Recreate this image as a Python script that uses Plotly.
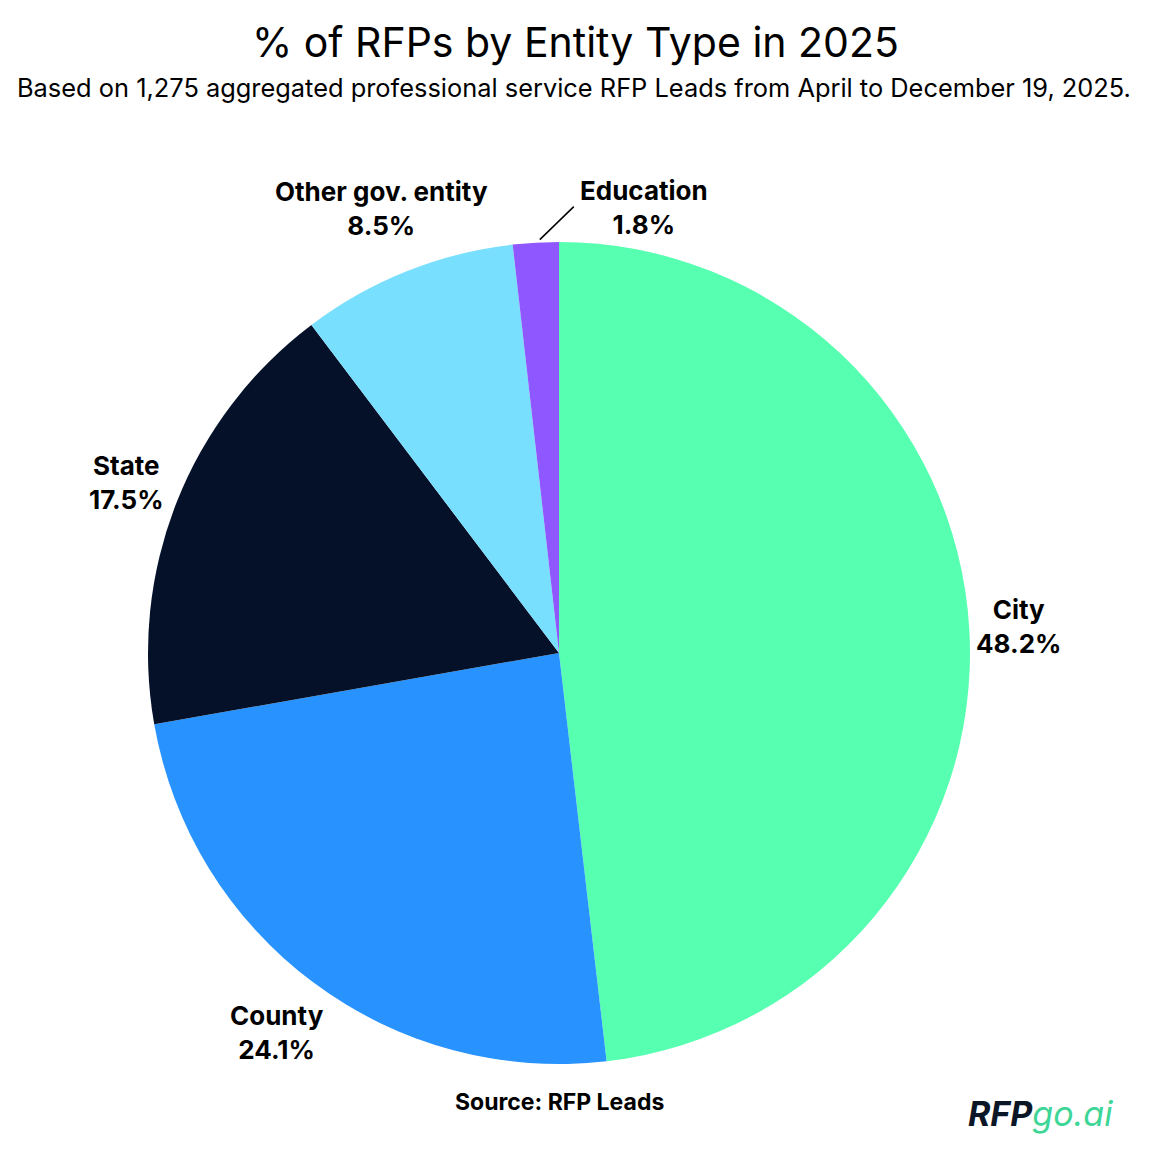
import math
import plotly.graph_objects as go

categories = ["City", "County", "State", "Other gov. entity", "Education"]
values = [48.2, 24.1, 17.5, 8.5, 1.8]
colors = ["#57FFB0", "#2893FF", "#041128", "#79DFFF", "#8E57FF"]
label_dist = {"City": 1.12, "County": 1.15, "State": 1.13, "Other gov. entity": 1.165}

W, H = 1152, 1156
OFF = 8  # page margin offset
CX, CY, R = 559 - OFF, 653 - OFF, 411

def px2paper(x, y):
    return x / W, 1 - y / H

fig = go.Figure()
fig.add_trace(go.Pie(
    labels=categories, values=values, sort=False, direction="clockwise",
    rotation=0, marker=dict(colors=colors, line=dict(width=0)),
    textinfo="none", hoverinfo="label+percent", showlegend=False,
    domain=dict(x=[(CX - R) / W, (CX + R) / W], y=[1 - (CY + R) / H, 1 - (CY - R) / H]),
))

total = sum(values)
cum = 0.0
annotations = []
shapes = []
for cat, v in zip(categories, values):
    mid = (cum + v / 2) / total * 2 * math.pi
    cum += v
    s, c = math.sin(mid), math.cos(mid)
    txt = f"{cat}<br>{v:.1f}%"
    if cat == "Education":
        ex, ey = CX + R * s, CY - R * c
        lx, ly = ex + 108, ey - 35
        x0, y0 = px2paper(ex + 4, ey - 3)
        x1, y1 = px2paper(ex + 38, ey - 36)
        shapes.append(dict(type="line", xref="paper", yref="paper", x0=x0, y0=y0, x1=x1, y1=y1,
                           line=dict(color="#000000", width=1.5)))
    else:
        f = label_dist[cat]
        lx, ly = CX + R * f * s, CY - R * f * c
    ax_, ay_ = px2paper(lx, ly)
    annotations.append(dict(x=ax_, y=ay_, xref="paper", yref="paper", text=txt, showarrow=False,
                            xanchor="center", yanchor="middle",
                            font=dict(family="Inter", size=26, color="#000000", weight=700)))

annotations.append(dict(x=(575 - OFF) / W, y=1 - (42 - OFF) / H, xref="paper", yref="paper", showarrow=False,
                        text="% of RFPs by Entity Type in 2025", xanchor="center", yanchor="middle",
                        font=dict(family="Inter", size=41, color="#000000")))
annotations.append(dict(x=(574 - OFF) / W, y=1 - (88 - OFF) / H, xref="paper", yref="paper", showarrow=False,
                        text="Based on 1,275 aggregated professional service RFP Leads from April to December 19, 2025.",
                        xanchor="center", yanchor="middle",
                        font=dict(family="Inter", size=25.4, color="#000000")))
annotations.append(dict(x=(559 - OFF) / W, y=1 - (1102 - OFF) / H, xref="paper", yref="paper", showarrow=False,
                        text="Source: RFP Leads", xanchor="center", yanchor="middle",
                        font=dict(family="Inter", size=23, color="#000000", weight=700)))
annotations.append(dict(x=(1040 - OFF) / W, y=1 - (1113 - OFF) / H, xref="paper", yref="paper", showarrow=False,
                        text="<b><i><span style='color:#0B1626'>RFP</span></i></b><i><span style='color:#3ED696'>go.ai</span></i>",
                        xanchor="center", yanchor="middle",
                        font=dict(family="Inter", size=34, color="#0B1626")))

fig.update_layout(width=W, height=H, margin=dict(l=0, r=0, t=0, b=0),
                  paper_bgcolor="#FFFFFF", plot_bgcolor="#FFFFFF",
                  annotations=annotations, shapes=shapes)
fig.write_html("out.html")
